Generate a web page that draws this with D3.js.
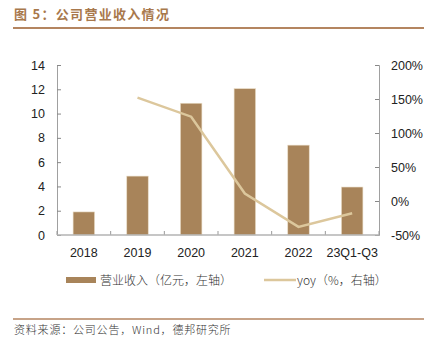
<!DOCTYPE html>
<html>
<head>
<meta charset="utf-8">
<script src="https://cdn.jsdelivr.net/npm/d3@7"></script>
<style>
  body { margin: 0; background: #fff; }
  svg { display: block; }
  .tick text { font-family: "Liberation Sans", Arial, sans-serif; font-size: 12.5px; fill: #222; }
</style>
</head>
<body>
<svg id="chart" width="433" height="354"></svg>
<script>
"use strict";

const categories = ["2018", "2019", "2020", "2021", "2022", "23Q1-Q3"];
const revenue = [1.9, 4.85, 10.85, 12.05, 7.4, 3.95];
const yoy = [null, 152, 124, 11, -38, -18];
const leftTicks = [0, 2, 4, 6, 8, 10, 12, 14];
const rightTicks = [-50, 0, 50, 100, 150, 200];

const brown = "#a8845a";
const lineColor = "#dcc79c";
const axisColor = "#b3b3b3";

const svg = d3.select("#chart");

const plotLeft = 57, plotRight = 379, plotTop = 65, plotBottom = 235;

const xScale = d3.scaleBand().domain(categories).range([plotLeft, plotRight]).paddingInner(0.6).paddingOuter(0.3);
const yLeft = d3.scaleLinear().domain([0, 14]).range([plotBottom, plotTop]);
const yRight = d3.scaleLinear().domain([-50, 200]).range([plotBottom, plotTop]);

// title
svg.append("text")
    .attr("x", 14).attr("y", 19)
    .attr("fill", "#a8784c")
    .style("font-family", "'Noto Sans CJK SC', sans-serif")
    .style("font-weight", "bold")
    .style("font-size", "13px")
    .style("letter-spacing", "1.3px")
    .text("图 5：公司营业收入情况");

svg.append("line")
    .attr("x1", 13).attr("x2", 424).attr("y1", 28).attr("y2", 28)
    .attr("stroke", "#b48560").attr("stroke-width", 2);

// axes
const gl = svg.append("g")
    .attr("transform", `translate(${plotLeft},0)`)
    .call(d3.axisLeft(yLeft).tickValues(leftTicks).tickSize(-4).tickPadding(12));
const gr = svg.append("g")
    .attr("transform", `translate(${plotRight},0)`)
    .call(d3.axisRight(yRight).tickValues(rightTicks).tickSize(-4).tickPadding(12).tickFormat(d => d + "%"));
[gl, gr].forEach(g => {
    g.select(".domain").attr("stroke", "#888").attr("stroke-width", 0.8);
    g.selectAll(".tick line").attr("stroke", "#888");
});

// category boundary ticks on bottom axis
const bounds = d3.range(categories.length + 1).map(i => plotLeft + i * (plotRight - plotLeft) / categories.length);
svg.append("g").selectAll("line").data(bounds).join("line")
    .attr("x1", d => d).attr("x2", d => d)
    .attr("y1", plotBottom).attr("y2", plotBottom - 4)
    .attr("stroke", "#999");

// bars
svg.append("g").selectAll("rect").data(revenue).join("rect")
    .attr("x", (d, i) => xScale(categories[i]))
    .attr("y", d => yLeft(d))
    .attr("width", xScale.bandwidth())
    .attr("height", d => plotBottom - yLeft(d))
    .attr("fill", brown)
    .attr("stroke", "#e9dcc6")
    .attr("stroke-width", 0.6);

svg.append("line")
    .attr("x1", plotLeft).attr("x2", plotRight).attr("y1", plotBottom).attr("y2", plotBottom)
    .attr("stroke", axisColor).attr("stroke-width", 1.5);

// x labels
svg.append("g").selectAll("text").data(categories).join("text")
    .attr("x", d => xScale(d) + xScale.bandwidth() / 2)
    .attr("y", 257)
    .attr("text-anchor", "middle")
    .style("font-family", "'Liberation Sans', Arial, sans-serif")
    .style("font-size", "12.5px")
    .attr("fill", "#222")
    .text(d => d);

// yoy line
const lineData = categories.map((c, i) => ({ c, v: yoy[i] })).filter(d => d.v !== null);
svg.append("path")
    .datum(lineData)
    .attr("fill", "none")
    .attr("stroke", lineColor)
    .attr("stroke-width", 2.5)
    .attr("d", d3.line()
        .x(d => xScale(d.c) + xScale.bandwidth() / 2)
        .y(d => yRight(d.v)));

// legend
const lg = svg.append("g").attr("transform", "translate(0,280)");
lg.append("rect").attr("x", 66).attr("y", -3).attr("width", 30).attr("height", 6).attr("fill", brown);
lg.append("text").attr("x", 100).attr("y", 4.5)
    .style("font-family", "'Noto Sans CJK SC', sans-serif").style("font-size", "12px").style("font-weight", 300).attr("fill", "#333")
    .text("营业收入（亿元，左轴）");
lg.append("line").attr("x1", 264).attr("x2", 296).attr("y1", 0).attr("y2", 0)
    .attr("stroke", lineColor).attr("stroke-width", 2.5);
lg.append("text").attr("x", 297).attr("y", 4.5)
    .style("font-family", "'Noto Sans CJK SC', sans-serif").style("font-size", "12px").style("font-weight", 300).attr("fill", "#333")
    .text("yoy（%，右轴）");

// footer
svg.append("line")
    .attr("x1", 13).attr("x2", 424).attr("y1", 319).attr("y2", 319)
    .attr("stroke", "#b48560").attr("stroke-width", 1.5);
svg.append("text")
    .attr("x", 14).attr("y", 334)
    .style("font-family", "'Noto Sans CJK SC', sans-serif")
    .style("font-size", "11px")
    .style("font-weight", 300)
    .style("letter-spacing", "0.8px")
    .attr("fill", "#333")
    .text("资料来源：公司公告，Wind，德邦研究所");
</script>
</body>
</html>
